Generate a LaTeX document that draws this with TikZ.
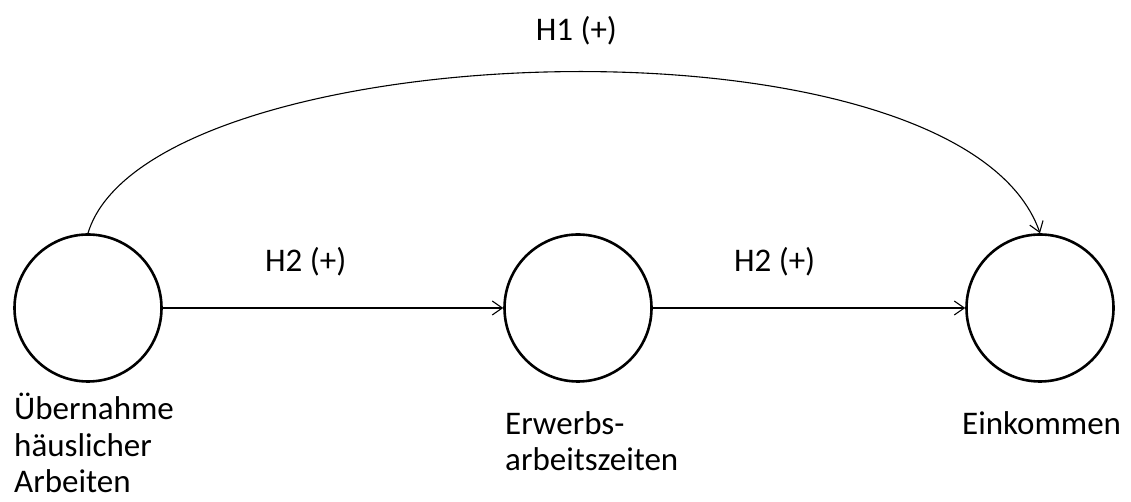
\documentclass[tikz,border=0pt]{standalone}
\usepackage{fontspec}
\setmainfont{Carlito}
\usetikzlibrary{arrows.meta, positioning}

\begin{document}
\begin{tikzpicture}[x=1pt, y=1pt,
    font=\fontsize{33}{36.5}\selectfont,
    kreis/.style={draw, circle, line width=2.6pt, minimum size=147pt, inner sep=0pt},
    lbl/.style={align=left, inner sep=0pt},
    pfeil/.style={line width=1.1pt, -{Straight Barb[length=10pt, width=14pt, line width=1.1pt]}}]
    \useasboundingbox (0,0) rectangle (1131,502);
    % Konstrukte
    \node[kreis] (ueber) at (88,194) {};
    \node[kreis] (erwerb) at (578,194) {};
    \node[kreis] (eink) at (1040,194) {};
    \node[lbl, anchor=north west] (tueber) at (14,109) {Übernahme\\häuslicher\\Arbeiten};
    \node[lbl, anchor=north west] (terwerb) at (505,91) {Erwerbs-\\arbeitszeiten};
    \node[lbl, anchor=north west] (teink) at (962,91) {Einkommen};
    % Hypothesen
    \draw[pfeil] (ueber) -- node[pos=0.42, above=31pt, inner sep=0pt] (h2a) {H2 (+)} (erwerb);
    \draw[pfeil] (erwerb) -- node[pos=0.39, above=31pt, inner sep=0pt] (h2b) {H2 (+)} (eink);
    \draw[pfeil] (ueber.north) .. controls +(60,200) and +(-80,230) .. node[pos=0.515, above=26pt, inner sep=0pt] (h1) {H1 (+)} (eink.north);
\end{tikzpicture}
\end{document}
